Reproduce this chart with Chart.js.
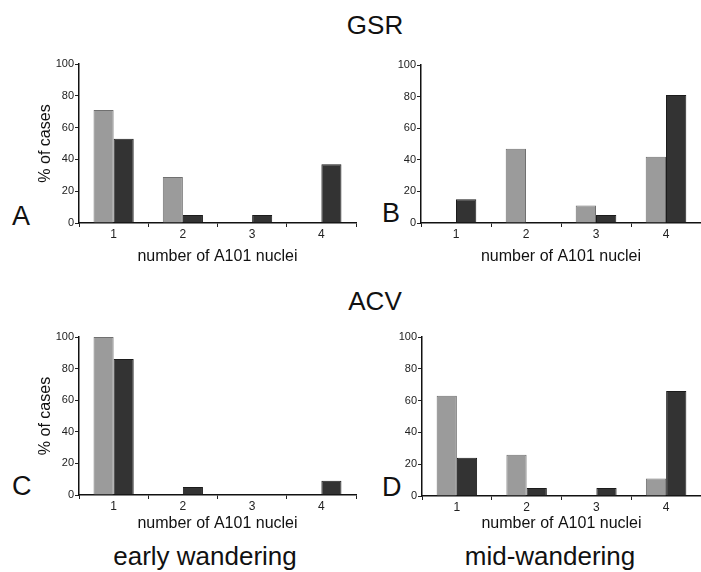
<!DOCTYPE html>
<html>
<head>
<meta charset="utf-8">
<script src="https://cdn.jsdelivr.net/npm/chart.js@4.4.0/dist/chart.umd.min.js"></script>
<style>
  body { margin: 0; background: #fff; }
  #page { position: relative; width: 701px; height: 572px; overflow: hidden; font-family: "Liberation Sans", Arial, sans-serif; color: #111; }
  .box { position: absolute; }
  .txt { position: absolute; line-height: 1; white-space: nowrap; }
</style>
</head>
<body>
<div id="page">
  <div class="txt" style="left:375px; top:12px; font-size:26px; transform:translateX(-50%)">GSR</div>
  <div class="txt" style="left:375px; top:288px; font-size:26px; transform:translateX(-50%)">ACV</div>
  <div class="txt" style="left:12px; top:203px; font-size:27px">A</div>
  <div class="txt" style="left:382px; top:200px; font-size:27px">B</div>
  <div class="txt" style="left:12px; top:473px; font-size:27px">C</div>
  <div class="txt" style="left:382px; top:474px; font-size:27px">D</div>
  <div class="txt" style="left:205px; top:543px; font-size:26px; transform:translateX(-50%)">early wandering</div>
  <div class="txt" style="left:550px; top:543px; font-size:26px; transform:translateX(-50%)">mid-wandering</div>

  <div class="box" style="left:0px; top:40px"><canvas id="cA" width="360" height="235"></canvas></div>
  <div class="box" style="left:350px; top:40px"><canvas id="cB" width="351" height="235"></canvas></div>
  <div class="box" style="left:0px; top:310px"><canvas id="cC" width="360" height="235"></canvas></div>
  <div class="box" style="left:350px; top:310px"><canvas id="cD" width="351" height="235"></canvas></div>
</div>
<script>
var categories = ["1", "2", "3", "4"];
var yTicks = [0, 20, 40, 60, 80, 100];

// GSR
var gsrEarlyGray = [71, 29, 0, 0];
var gsrEarlyDark = [53, 5, 5, 37];
var gsrMidGray = [0, 47, 11, 42];
var gsrMidDark = [15, 0, 5, 81];
// ACV
var acvEarlyGray = [100, 0, 0, 0];
var acvEarlyDark = [86, 5, 0, 9];
var acvMidGray = [63, 26, 0, 11];
var acvMidDark = [24, 5, 5, 66];

var FONT = "'Liberation Sans', Arial, sans-serif";

function makeChart(id, gray, dark, o) {
    var ctx = document.getElementById(id).getContext("2d");
    return new Chart(ctx, {
        type: "bar",
        data: {
            labels: categories,
            datasets: [{
                data: gray,
                backgroundColor: "#9b9b9b",
                borderColor: "#707070",
                borderWidth: function (c) { return c.raw ? 1 : 0; },
                categoryPercentage: 0.58,
                barPercentage: 1
            }, {
                data: dark,
                backgroundColor: "#333333",
                borderColor: "#1c1c1c",
                borderWidth: function (c) { return c.raw ? 1 : 0; },
                categoryPercentage: 0.58,
                barPercentage: 1
            }]
        },
        options: {
            responsive: false,
            animation: false,
            devicePixelRatio: 1,
            layout: { padding: { top: o.padTop, right: o.padRight, left: 0, bottom: 0 } },
            plugins: { legend: { display: false }, tooltip: { enabled: false } },
            scales: {
                x: {
                    grid: { drawOnChartArea: false, tickLength: 4, color: "#222", lineWidth: 1 },
                    border: { color: "#111", width: 1.5 },
                    ticks: { font: { family: FONT, size: 12 }, color: "#222", padding: 0 },
                    title: {
                        display: true, text: "number of A101 nuclei", color: "#111",
                        font: { family: FONT, size: 16, lineHeight: 1.2 },
                        padding: { top: 0, bottom: o.xTitlePad }
                    },
                    afterFit: function (s) { s.height = o.xHeight; }
                },
                y: {
                    min: 0, max: 100,
                    afterBuildTicks: function (s) { s.ticks = yTicks.map(function (v) { return { value: v }; }); },
                    grid: { drawOnChartArea: false, tickLength: 4, color: "#222", lineWidth: 1 },
                    border: { color: "#111", width: 1.5 },
                    ticks: { font: { family: FONT, size: 11 }, color: "#222", padding: 1 },
                    title: {
                        display: o.yTitle, text: "% of cases", color: "#111",
                        font: { family: FONT, size: 16, lineHeight: 1.2 },
                        padding: { top: 36, bottom: 0 }
                    },
                    afterFit: function (s) { s.width = o.yWidth; }
                }
            }
        }
    });
}

makeChart("cA", gsrEarlyGray, gsrEarlyDark, { padTop: 24, padRight: 4, yWidth: 79, xHeight: 52, xTitlePad: 9, yTitle: true });
makeChart("cB", gsrMidGray, gsrMidDark, { padTop: 25, padRight: 0, yWidth: 71, xHeight: 52, xTitlePad: 9, yTitle: false });
makeChart("cC", acvEarlyGray, acvEarlyDark, { padTop: 27, padRight: 4, yWidth: 79, xHeight: 50, xTitlePad: 12, yTitle: true });
makeChart("cD", acvMidGray, acvMidDark, { padTop: 27, padRight: 0, yWidth: 72, xHeight: 49, xTitlePad: 12, yTitle: false });
</script>
</body>
</html>
